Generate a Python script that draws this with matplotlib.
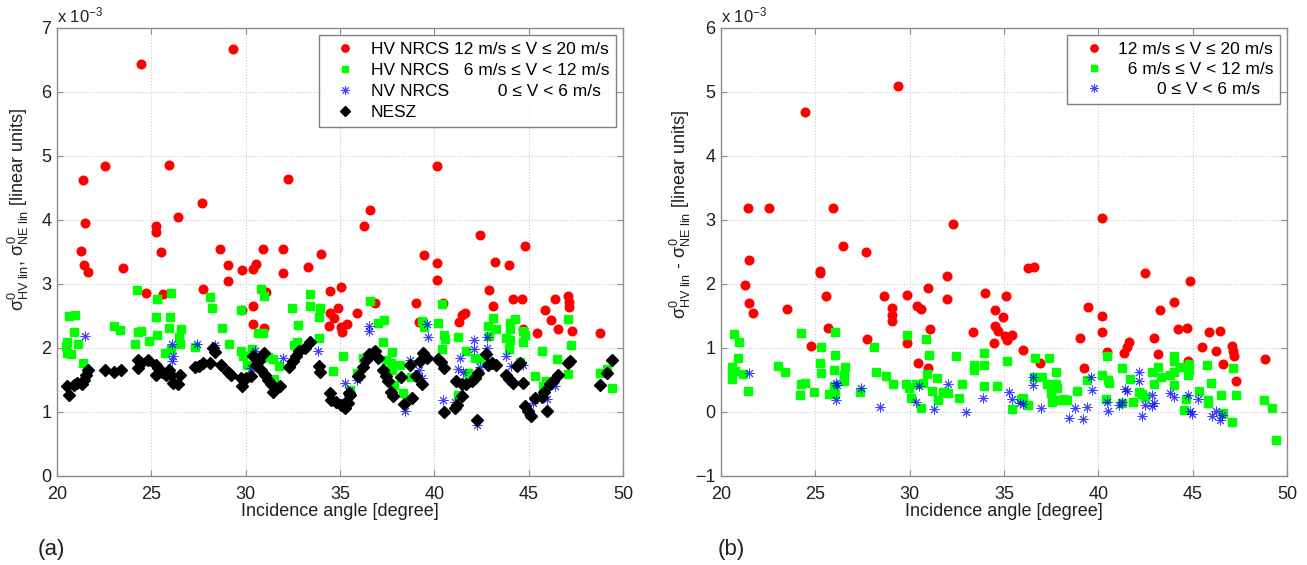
import matplotlib
matplotlib.use("Agg")
import matplotlib.pyplot as plt

plt.rcParams['font.family'] = ['Liberation Sans', 'DejaVu Sans']
plt.rcParams['mathtext.fontset'] = 'custom'
plt.rcParams['mathtext.rm'] = 'Liberation Sans'
plt.rcParams['mathtext.it'] = 'Liberation Sans'
plt.rcParams['mathtext.bf'] = 'Liberation Sans:bold'

# ---------------- Panel (a) data (values in units of 1e-3) ----------------
a_high_x = [24.44, 29.33, 22.55, 25.93, 21.38, 32.25, 27.66, 26.41, 25.24, 25.24, 21.47, 21.27, 25.52, 28.62, 30.94, 31.98, 33.98,
            21.43, 21.66, 23.5, 29.06, 29.06, 29.8, 30.37, 30.57, 31.97, 33.33, 24.74, 25.63, 27.75, 29.81, 30.41, 30.37, 30.98,
            31.08, 34.48, 35.07, 34.92, 34.48, 34.66, 34.44, 35.03, 35.1, 35.38, 35.92,
            40.16, 36.57, 36.27, 42.44, 44.83, 39.44,
            40.16, 40.16, 43.21, 43.95, 36.87, 39.01, 39.17, 40.46, 42.9, 43.1, 41.33, 41.47, 41.6, 44.18, 44.64, 44.68, 45.45,
            45.86, 46.21, 46.57, 46.41, 47.06, 47.12, 47.14, 47.28, 48.78]
a_high_y = [6.43, 6.67, 4.85, 4.86, 4.62, 4.64, 4.26, 4.04, 3.91, 3.81, 3.95, 3.51, 3.5, 3.55, 3.54, 3.55, 3.47,
            3.29, 3.19, 3.25, 3.29, 3.05, 3.22, 3.24, 3.32, 3.17, 3.27, 2.86, 2.85, 2.92, 2.6, 2.65, 2.37, 2.31,
            2.88, 2.89, 2.95, 2.62, 2.55, 2.47, 2.34, 2.33, 2.25, 2.38, 2.54,
            4.85, 4.16, 3.9, 3.77, 3.6, 3.45,
            3.33, 3.07, 3.35, 3.29, 2.7, 2.7, 2.41, 2.71, 2.9, 2.65, 2.4, 2.51, 2.55, 2.77, 2.77, 2.3, 2.23,
            2.6, 2.43, 2.3, 2.77, 2.81, 2.72, 2.64, 2.26, 2.23]

a_mid_x = [20.55, 20.5, 20.55, 20.72, 20.64, 20.94, 20.89, 21.13, 21.38, 24.25, 23.03, 23.36, 24.27, 24.46, 24.16, 24.9,
           25.29, 25.26, 25.29, 26.02, 26.0, 25.96, 26.57, 26.48, 26.51, 25.74, 26.04, 27.33, 28.11, 28.2, 28.73, 29.1,
           29.77, 29.77, 29.88, 30.05, 30.34, 30.83, 30.99, 30.67, 30.9, 31.17, 31.43, 31.49, 31.79, 32.44, 32.75, 32.71,
           32.57, 33.42, 33.42, 33.95, 33.91, 33.91, 34.62, 35.15, 35.92,
           36.6, 37.32, 36.99, 37.27, 37.75, 37.45, 37.72, 37.75, 38.2, 37.86, 38.34, 38.78, 39.37, 39.44, 40.19, 40.43,
           40.5, 40.55, 40.39, 41.23, 41.67, 41.79, 42.15, 42.41, 42.82, 43.12, 43.26, 42.89, 41.26, 43.78, 44.0, 44.0,
           44.0, 43.97, 44.27, 44.71, 44.71, 44.8, 44.54, 45.33, 45.72, 45.74, 45.9, 46.48, 47.06, 47.1, 47.26, 48.78,
           49.13, 49.4, 35.51, 36.22]
a_mid_y = [2.1, 2.03, 1.92, 1.91, 2.5, 2.51, 2.25, 2.07, 1.77, 2.9, 2.34, 2.28, 2.25, 2.27, 2.07, 2.11,
           2.76, 2.49, 2.2, 2.86, 2.49, 2.31, 2.3, 2.17, 2.06, 1.92, 1.99, 2.02, 2.79, 2.62, 2.32, 2.07,
           2.6, 1.96, 1.87, 1.73, 1.99, 2.92, 2.82, 2.24, 2.24, 1.86, 1.83, 1.52, 1.72, 2.63, 2.36, 2.1,
           2.04, 2.85, 2.65, 2.62, 2.49, 2.15, 1.64, 1.87, 1.61,
           2.74, 2.43, 2.39, 2.09, 1.93, 1.82, 1.76, 1.65, 1.74, 1.42, 1.3, 1.55, 2.42, 2.33, 2.39, 2.68,
           2.2, 2.14, 1.99, 2.17, 1.96, 1.61, 1.85, 1.83, 2.35, 2.47, 2.3, 2.18, 1.26, 2.16, 2.39, 2.29,
           2.13, 1.99, 2.45, 2.26, 2.1, 2.2, 1.78, 1.56, 1.95, 1.4, 1.48, 1.83, 1.6, 2.46, 2.04, 1.61,
           1.67, 1.37, 1.35, 1.84]

a_low_x = [21.47, 26.09, 26.16, 26.09, 27.4, 28.39, 30.52, 30.3, 31.97, 33.86, 35.26, 35.47, 35.92,
           36.53, 36.53, 38.69, 39.17, 39.37, 39.63, 39.67, 38.44, 40.46, 41.08, 41.26, 41.53, 41.35, 42.11,
           42.11, 42.41, 42.77, 42.8, 42.27, 43.79, 44.04, 44.71, 45.21, 45.01, 45.99, 46.39]
a_low_y = [2.19, 2.07, 1.88, 1.79, 2.07, 2.04, 1.96, 1.69, 1.84, 1.96, 1.46, 1.33, 1.5,
           2.35, 2.26, 1.82, 1.65, 1.53, 2.38, 2.17, 1.02, 1.18, 1.15, 1.67, 1.62, 1.84, 2.12,
           1.99, 1.7, 2.17, 2.0, 0.8, 1.87, 1.72, 1.74, 1.14, 0.96, 1.2, 1.4]

a_nesz_x = [20.64, 20.55, 20.9, 21.08, 21.34, 21.43, 21.52, 21.66, 22.53, 23.03, 23.38, 24.27, 24.27, 24.44, 24.8,
            25.24, 25.36, 25.24, 25.59, 25.77, 25.95, 26.04, 26.51, 26.16, 26.39, 27.33, 27.54, 27.75, 28.11, 28.25,
            28.35, 28.69, 29.04, 29.22, 29.75, 29.81, 30.02, 30.29, 30.37, 30.55, 30.73, 30.99, 30.82, 31.05, 31.17,
            31.35, 31.43, 31.84, 32.28, 32.5, 32.67, 32.85, 33.12, 33.42, 33.91, 33.95, 34.48, 34.53, 34.8, 35.07,
            35.24, 35.42, 35.51, 35.95,
            35.33, 35.47, 36.0, 36.22, 36.39, 36.53, 36.75, 36.87, 37.01, 37.27, 37.45, 37.54, 37.72, 37.81, 38.22,
            38.39, 38.83, 38.72, 39.01, 39.37, 39.22, 39.4, 39.61, 40.19, 40.37, 40.5, 40.5, 41.08, 41.21, 41.49,
            41.17, 41.44, 41.7, 41.97, 42.15, 42.32, 42.27, 42.76, 42.85, 43.08, 43.29, 43.78, 43.97, 44.18, 44.36,
            44.54, 44.68, 44.8, 44.98, 45.15, 45.33, 45.69, 45.81, 45.95, 46.13, 46.31, 46.57, 47.1, 47.19, 48.78,
            49.13, 49.4]
a_nesz_y = [1.27, 1.4, 1.42, 1.46, 1.43, 1.5, 1.58, 1.65, 1.65, 1.62, 1.65, 1.82, 1.69, 1.77, 1.82,
            1.74, 1.69, 1.58, 1.63, 1.58, 1.65, 1.58, 1.58, 1.45, 1.44, 1.7, 1.72, 1.77, 1.77, 2.0,
            1.93, 1.74, 1.62, 1.58, 1.53, 1.4, 1.53, 1.56, 1.88, 1.74, 1.79, 1.92, 1.66, 1.58, 1.5,
            1.43, 1.32, 1.4, 1.71, 1.79, 1.87, 1.95, 2.0, 2.1, 1.72, 1.62, 1.3, 1.19, 1.15, 1.11,
            1.06, 1.14, 1.27, 1.56,
            1.16, 1.29, 1.56, 1.71, 1.81, 1.9, 1.92, 1.95, 1.84, 1.66, 1.56, 1.48, 1.32, 1.25, 1.54,
            1.13, 1.22, 1.74, 1.56, 1.43, 1.79, 1.92, 1.84, 1.83, 1.78, 1.69, 1.0, 1.06, 1.11, 1.25,
            1.48, 1.44, 1.43, 1.48, 1.53, 1.61, 0.87, 1.91, 1.74, 1.76, 1.74, 1.58, 1.52, 1.45, 1.72,
            1.76, 1.45, 1.09, 1.02, 0.93, 1.22, 1.24, 1.32, 1.02, 1.43, 1.49, 1.58, 1.77, 1.79, 1.42,
            1.61, 1.81]

# ---------------- Panel (b) data (values in units of 1e-3) ----------------
b_high_x = [29.38, 24.46, 21.43, 22.55, 25.95, 32.28, 26.44, 27.66, 21.49, 40.22,
            21.29, 21.49, 21.68, 23.52, 25.26, 25.26, 25.54, 25.65, 24.76, 27.75, 28.62, 29.08, 29.08, 29.08, 29.84,
            29.84, 30.39, 30.58, 30.96, 31.08, 30.43, 30.99, 32.0, 31.99, 33.37, 34.0, 34.5, 34.94, 35.08, 34.5,
            34.67, 35.03, 35.14, 35.44, 34.48,
            36.29, 36.61, 36.02, 36.9, 39.45, 39.03, 39.24, 40.18, 40.18, 40.48, 41.37, 41.51, 41.63, 42.46, 42.93,
            43.14, 43.25, 43.99, 44.22, 44.7, 44.87, 44.73, 45.47, 45.88, 46.25, 46.45, 46.61, 47.1, 47.15, 47.17,
            47.31, 48.82]
b_high_y = [5.09, 4.68, 3.19, 3.19, 3.19, 2.93, 2.59, 2.5, 2.37, 3.03,
            1.99, 1.71, 1.55, 1.61, 2.21, 2.17, 1.82, 1.32, 1.03, 1.14, 1.81, 1.63, 1.51, 1.42, 1.83,
            1.08, 1.65, 1.61, 1.93, 1.29, 0.76, 0.68, 2.12, 1.76, 1.25, 1.86, 1.59, 1.48, 1.81, 1.35,
            1.27, 1.19, 1.13, 1.21, 1.08,
            2.25, 2.27, 0.97, 0.77, 1.64, 1.15, 0.68, 1.5, 1.25, 0.94, 0.92, 1.02, 1.09, 2.17, 1.16,
            0.9, 1.6, 1.72, 1.29, 1.32, 2.04, 0.79, 1.01, 1.25, 0.96, 1.27, 0.75, 1.03, 0.95, 0.87,
            0.49, 0.83]

b_mid_x = [20.67, 20.97, 20.92, 20.57, 20.57, 20.73, 20.57, 21.15, 21.42, 23.04, 23.38, 24.26, 24.26, 24.44, 24.18,
           24.94, 25.31, 25.27, 25.29, 26.02, 26.02, 26.0, 26.59, 26.5, 26.53, 26.0, 25.72, 26.02, 27.35, 28.13,
           28.22, 28.75, 29.12, 29.84, 29.79, 29.95, 30.09, 30.58, 30.36, 30.73, 30.85, 31.01, 30.92, 31.45, 31.19,
           31.77, 32.02, 31.51, 32.48, 32.8, 32.62, 33.42, 33.42, 33.95, 33.95, 33.93, 34.62, 35.15, 35.44, 35.88,
           35.99, 36.27, 36.62, 36.59, 37.01, 37.38, 37.3, 37.78, 37.74, 37.83, 37.47, 37.53, 37.91, 38.18, 38.36,
           38.85, 39.42, 40.22, 40.46, 40.52, 40.57, 40.43, 41.28, 41.24, 41.68, 41.82, 42.16, 42.34, 42.46, 42.87,
           43.14, 43.31, 42.93, 43.81, 43.99, 43.99, 44.02, 44.02, 44.32, 44.82, 44.79, 44.77, 44.66, 44.52, 45.35,
           45.76, 45.97, 45.79, 45.79, 46.5, 46.59, 47.07, 47.12, 47.3, 48.8, 49.19, 49.42]
b_mid_y = [1.22, 1.09, 0.84, 0.71, 0.63, 0.64, 0.51, 0.6, 0.33, 0.72, 0.62, 1.23, 0.44, 0.45, 0.27,
           0.31, 1.02, 0.76, 0.61, 1.25, 0.89, 0.65, 0.71, 0.58, 0.48, 0.4, 0.28, 0.28, 0.31, 1.02,
           0.62, 0.56, 0.44, 1.21, 0.44, 0.37, 0.22, 0.07, 0.44, 0.45, 1.14, 0.89, 0.59, 0.53, 0.33,
           0.32, 0.29, 0.18, 0.88, 0.43, 0.22, 0.74, 0.65, 0.92, 0.74, 0.4, 0.41, 0.8, 0.05, 0.21,
           0.22, 0.11, 0.84, 0.55, 0.54, 0.84, 0.44, 0.63, 0.44, 0.38, 0.3, 0.15, 0.19, 0.21, 0.18,
           0.33, 0.5, 0.58, 0.88, 0.5, 0.45, 0.2, 0.14, 0.68, 0.51, 0.15, 0.32, 0.28, 0.23, 0.62,
           0.7, 0.55, 0.43, 0.58, 0.62, 0.42, 0.88, 0.79, 0.71, 0.75, 0.66, 0.58, 0.21, 0.03, 0.33,
           0.73, 0.46, 0.19, 0.14, 0.26, -0.02, -0.16, 0.68, 0.27, 0.18, 0.06, -0.43]

b_low_x = [21.5, 26.11, 26.14, 26.09, 27.43, 28.44, 30.36, 30.52, 31.31, 32.02, 32.96, 33.91, 35.28, 35.45, 35.84,
           36.02, 36.53, 36.53, 36.94, 38.46, 38.76, 39.21, 39.42, 39.63, 39.69, 40.48, 40.52, 41.1, 41.28, 41.4,
           41.51, 42.13, 42.13, 42.34, 42.46, 42.82, 42.87, 42.96, 43.81, 44.02, 44.73, 44.85, 44.96, 45.26, 46.02,
           46.23, 46.45, 46.54]
b_low_y = [0.61, 0.45, 0.42, 0.18, 0.38, 0.08, 0.15, 0.41, 0.04, 0.43, 0.0, 0.22, 0.32, 0.21, 0.14,
           0.12, 0.55, 0.42, 0.06, -0.09, 0.07, -0.11, 0.08, 0.54, 0.34, 0.16, 0.02, 0.11, 0.16, 0.36,
           0.33, 0.62, 0.48, -0.06, 0.11, 0.27, 0.09, 0.14, 0.29, 0.23, 0.26, 0.02, -0.03, 0.21, -0.07,
           0.02, -0.13, -0.05]

x_ticks = [20, 25, 30, 35, 40, 45, 50]
a_yticks = [0, 1, 2, 3, 4, 5, 6, 7]
b_yticks = [-1, 0, 1, 2, 3, 4, 5, 6]

a_labels = ["HV NRCS 12 m/s \u2264 V \u2264 20 m/s",
            "HV NRCS   6 m/s \u2264 V < 12 m/s",
            "NV NRCS          0 \u2264 V < 6 m/s",
            "NESZ"]
b_labels = ["12 m/s \u2264 V \u2264 20 m/s",
            "  6 m/s \u2264 V < 12 m/s",
            "        0 \u2264 V < 6 m/s"]

W, H = 1307, 565
fig = plt.figure(figsize=(W / 100, H / 100), dpi=100)

spine_col = '#8c8c8c'
FS = 13
LFS = 12.5

def setup(ax, yticks):
    ax.set_xlim(20, 50)
    ax.set_ylim(yticks[0], yticks[-1])
    ax.set_xticks(x_ticks)
    ax.set_yticks(yticks)
    ax.grid(True, linestyle=':', color='#c8c8c8', linewidth=0.8)
    ax.set_axisbelow(True)
    for s in ax.spines.values():
        s.set_color(spine_col)
        s.set_linewidth(1.0)
    ax.tick_params(direction='in', length=4, width=0.8, color=spine_col, labelsize=FS,
                   top=True, right=True, labelcolor='#202020')
    ax.tick_params(axis='x', pad=7)
    ax.tick_params(axis='y', pad=4)
    ax.set_xlabel('Incidence angle [degree]', fontsize=FS, color='#202020', labelpad=0)
    ax.text(0.0, 1.005, r'x 10$^{\mathregular{-3}}$', transform=ax.transAxes, fontsize=FS - 1,
            ha='left', va='bottom', color='#202020')

asterisk = (8, 2, 0)

def panel_rect(x0):
    return [x0 / W, (H - 476) / H, 566 / W, 448 / H]

ax1 = fig.add_axes(panel_rect(57))
setup(ax1, a_yticks)
ax1.plot(a_high_x, a_high_y, 'o', color='red', ms=6.2, mec='red', label=a_labels[0])
ax1.plot(a_mid_x, a_mid_y, 's', color='#00ff00', ms=5.2, mec='#00ff00', label=a_labels[1])
ax1.plot(a_low_x, a_low_y, ls='none', marker=asterisk, color='blue', ms=7, mew=0.7, alpha=0.75, label=a_labels[2])
ax1.plot(a_nesz_x, a_nesz_y, 'D', color='black', ms=5.8, label=a_labels[3])
ax1.set_ylabel(r'$\sigma^{0}_{\mathrm{HV\ lin}}$, $\sigma^{0}_{\mathrm{NE\ lin}}$ [linear units]',
               fontsize=FS, color='#202020')
ax1.yaxis.set_label_coords(-0.046, 0.595)
leg1 = ax1.legend(loc='upper right', fontsize=LFS, frameon=True, fancybox=False,
                  edgecolor='#606060', borderaxespad=0.4, handlelength=2.2, handletextpad=0.35,
                  labelspacing=0.33, borderpad=0.4, markerscale=0.85)
leg1.get_frame().set_linewidth(1.0)

ax2 = fig.add_axes(panel_rect(721))
setup(ax2, b_yticks)
ax2.plot(b_high_x, b_high_y, 'o', color='red', ms=6.2, mec='red', label=b_labels[0])
ax2.plot(b_mid_x, b_mid_y, 's', color='#00ff00', ms=5.2, mec='#00ff00', label=b_labels[1])
ax2.plot(b_low_x, b_low_y, ls='none', marker=asterisk, color='blue', ms=7, mew=0.7, alpha=0.75, label=b_labels[2])
ax2.set_ylabel(r'$\sigma^{0}_{\mathrm{HV\ lin}}$ - $\sigma^{0}_{\mathrm{NE\ lin}}$ [linear units]',
               fontsize=FS, color='#202020')
ax2.yaxis.set_label_coords(-0.05, 0.585)
leg2 = ax2.legend(loc='upper right', fontsize=LFS, frameon=True, fancybox=False,
                  edgecolor='#606060', borderaxespad=0.4, handlelength=2.3, handletextpad=0.2,
                  labelspacing=0.28, borderpad=0.4, markerscale=0.85)
leg2.get_frame().set_linewidth(1.0)

fig.text(38 / W, 1 - 549 / H, '(a)', fontsize=16, ha='left', va='center', color='#202020')
fig.text(718 / W, 1 - 549 / H, '(b)', fontsize=16, ha='left', va='center', color='#202020')

fig.savefig('out.png', dpi=100)
